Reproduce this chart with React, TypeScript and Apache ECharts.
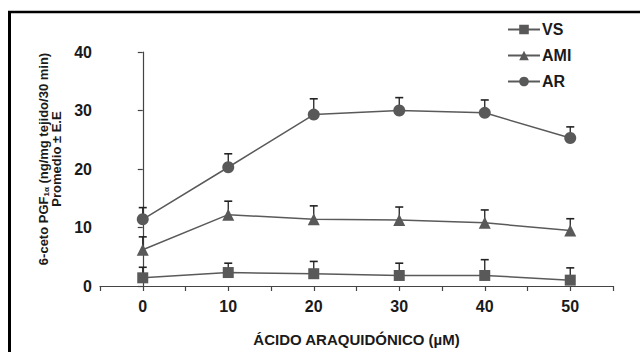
import React, { useEffect, useRef } from "react";
import * as echarts from "echarts";

const xValues = [0, 10, 20, 30, 40, 50];
const vsMean = [1.4, 2.3, 2.1, 1.8, 1.8, 1.0];
const vsUpper = [3.2, 3.9, 4.2, 3.9, 4.5, 3.1];
const amiMean = [6.2, 12.2, 11.4, 11.3, 10.8, 9.5];
const amiUpper = [8.4, 14.5, 13.7, 13.5, 13.0, 11.5];
const arMean = [11.4, 20.3, 29.3, 30.0, 29.6, 25.3];
const arUpper = [13.4, 22.6, 32.0, 32.2, 31.8, 27.2];
const seriesNames = ["VS", "AMI", "AR"];
const xLabels = ["0", "10", "20", "30", "40", "50"];

const LINE = "#5a5a5a";
const MARK = "#595959";
const TXT = "#1a1a1a";
const FONT = "Liberation Sans, Arial, sans-serif";

function errSeries(mean: number[], upper: number[]) {
  return {
    type: "custom",
    z: 1,
    silent: true,
    data: xValues.map((x, i) => [x, mean[i], upper[i]]),
    renderItem: (params: any, api: any) => {
      const p0 = api.coord([api.value(0), api.value(1)]);
      const p1 = api.coord([api.value(0), api.value(2)]);
      return {
        type: "group",
        children: [
          {
            type: "line",
            shape: { x1: p0[0], y1: p0[1], x2: p1[0], y2: p1[1] },
            style: { stroke: "#222", lineWidth: 1.3 },
          },
          {
            type: "line",
            shape: { x1: p1[0] - 4, y1: p1[1], x2: p1[0] + 4, y2: p1[1] },
            style: { stroke: "#222", lineWidth: 1.6 },
          },
        ],
      };
    },
  };
}

function lineSeries(name: string, data: number[], symbol: string, size: number) {
  return {
    type: "line",
    name,
    z: 3,
    data: xValues.map((x, i) => [x, data[i]]),
    symbol,
    symbolSize: size,
    showSymbol: true,
    lineStyle: { color: LINE, width: 1.5 },
    itemStyle: { color: MARK },
  };
}

export default function App() {
  const ref = useRef<HTMLDivElement>(null);
  useEffect(() => {
    const chart = echarts.init(ref.current!, null, { renderer: "svg" });
    chart.setOption({
      animation: false,
      grid: { left: 100, right: 27, top: 52, bottom: 61 },
      graphic: [
        {
          type: "line",
          shape: { x1: 8, y1: 12, x2: 640, y2: 12 },
          style: { stroke: "#000", lineWidth: 2.5 },
        },
        {
          type: "line",
          shape: { x1: 9.5, y1: 11, x2: 9.5, y2: 352 },
          style: { stroke: "#000", lineWidth: 3 },
        },
        {
          type: "text",
          x: 50,
          y: 159,
          rotation: Math.PI / 2,
          style: {
            text:
              "{a|6-ceto PGF}{s|1α}{a| (ng/mg tejido/30 min)}\n{a|Promedio ± E.E}",
            align: "center",
            verticalAlign: "middle",
            fill: TXT,
            rich: {
              a: {
                fontFamily: FONT,
                fontWeight: "bold",
                fontSize: 13,
                lineHeight: 13,
                fill: TXT,
              },
              s: {
                fontFamily: FONT,
                fontWeight: "bold",
                fontSize: 8,
                lineHeight: 13,
                verticalAlign: "bottom",
                fill: TXT,
              },
            },
          },
        },
      ],
      legend: {
        orient: "vertical",
        left: 502,
        top: 16,
        itemWidth: 32,
        itemHeight: 12,
        itemGap: 9,
        data: seriesNames,
        textStyle: {
          fontFamily: FONT,
          fontWeight: "bold",
          fontSize: 16,
          lineHeight: 17,
          color: TXT,
          padding: [0, 0, 0, -3],
        },
      },
      xAxis: {
        type: "value",
        min: -5,
        max: 55,
        interval: 5,
        name: "ÁCIDO ARAQUIDÓNICO (µM)",
        nameLocation: "middle",
        nameGap: 46,
        nameTextStyle: {
          fontFamily: FONT,
          fontWeight: "bold",
          fontSize: 15,
          color: TXT,
        },
        splitLine: { show: false },
        axisLine: { lineStyle: { color: "#444", width: 1.2 } },
        axisTick: { length: 5, lineStyle: { color: "#444", width: 1.2 } },
        axisLabel: {
          margin: 12,
          fontFamily: FONT,
          fontWeight: "bold",
          fontSize: 16,
          color: TXT,
          formatter: (v: number) => {
            const idx = xValues.indexOf(v);
            return idx >= 0 ? xLabels[idx] : "";
          },
        },
      },
      yAxis: {
        type: "value",
        min: 0,
        max: 40,
        interval: 10,
        splitLine: { show: false },
        axisLine: { show: true, lineStyle: { color: "#444", width: 1.2 } },
        axisTick: { show: true, length: 5, lineStyle: { color: "#444", width: 1.2 } },
        axisLabel: {
          margin: 8,
          fontFamily: FONT,
          fontWeight: "bold",
          fontSize: 16,
          color: TXT,
        },
      },
      series: [
        errSeries(vsMean, vsUpper),
        errSeries(amiMean, amiUpper),
        errSeries(arMean, arUpper),
        lineSeries("VS", vsMean, "rect", 11),
        lineSeries("AMI", amiMean, "triangle", 12),
        lineSeries("AR", arMean, "circle", 12),
      ],
    });
    return () => chart.dispose();
  }, []);
  return (
    <div
      ref={ref}
      style={{ position: "fixed", left: 0, top: 0, width: 640, height: 352, background: "#fff" }}
    />
  );
}
